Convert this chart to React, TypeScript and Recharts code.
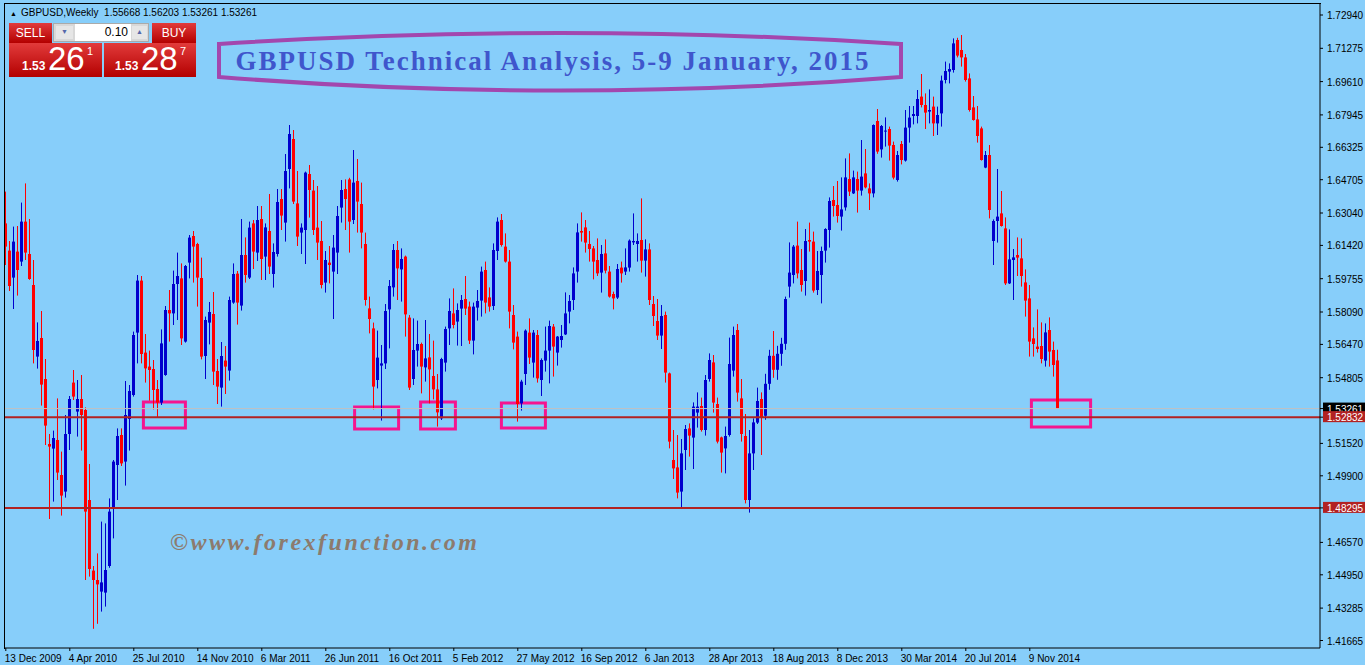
import React from 'react';
import { ComposedChart, Bar, XAxis, YAxis, ReferenceLine, ReferenceArea } from 'recharts';

// weekly GBPUSD bars, week 0 = 13 Dec 2009
const opens = [
  1.6252, 1.6116, 1.5981, 1.6111, 1.6061, 1.6261, 1.6099, 1.5944,
  1.5586, 1.5679, 1.5474, 1.5149, 1.5126, 1.5169, 1.4994, 1.4911,
  1.5199, 1.5456, 1.5311, 1.5374, 1.5319, 1.4869, 1.4516, 1.4469,
  1.4411, 1.4406, 1.4539, 1.4827, 1.5044, 1.5194, 1.5061, 1.5274,
  1.5394, 1.5706, 1.5966, 1.5606, 1.5536, 1.5524, 1.5424, 1.5356,
  1.5494, 1.5819, 1.5802, 1.5949, 1.5977, 1.5661, 1.6056, 1.6189,
  1.6149, 1.5979, 1.5589, 1.5756, 1.5799, 1.5514, 1.5431, 1.5566,
  1.5516, 1.5856, 1.6001, 1.5841, 1.6094, 1.5981, 1.6252, 1.6106,
  1.6274, 1.6086, 1.6214, 1.5999, 1.6099, 1.6374, 1.6256, 1.6524,
  1.6674, 1.6352, 1.6206, 1.6219, 1.6499, 1.6416, 1.6231, 1.6164,
  1.5956, 1.6056, 1.6011, 1.6106, 1.6331, 1.6424, 1.6472, 1.6269,
  1.6464, 1.6349, 1.6149, 1.5827, 1.5727, 1.5469, 1.5541, 1.5552,
  1.5822, 1.5932, 1.6119, 1.6022, 1.6086, 1.5781, 1.5474, 1.5616,
  1.5649, 1.5532, 1.5582, 1.5489, 1.5422, 1.5277, 1.5556, 1.5727,
  1.5802, 1.5761, 1.5826, 1.5874, 1.5836, 1.5666, 1.5831, 1.5866,
  1.6019, 1.5882, 1.5839, 1.6114, 1.6269, 1.6136, 1.6061, 1.5794,
  1.5686, 1.5352, 1.5499, 1.5706, 1.5556, 1.5694, 1.5469, 1.5566,
  1.5616, 1.5736, 1.5606, 1.5669, 1.5697, 1.5811, 1.5869, 1.6011,
  1.6214, 1.6232, 1.6149, 1.6127, 1.6069, 1.6006, 1.6102, 1.6011,
  1.5899, 1.5881, 1.6031, 1.6011, 1.6031, 1.6157, 1.6149, 1.6169,
  1.6066, 1.6122, 1.5849, 1.5764, 1.5691, 1.5794, 1.5502, 1.5069,
  1.5032, 1.4911, 1.5119, 1.5227, 1.5181, 1.5306, 1.5339, 1.5219,
  1.5474, 1.5557, 1.5349, 1.5182, 1.5127, 1.5194, 1.5516, 1.5719,
  1.5377, 1.5189, 1.4869, 1.5102, 1.5256, 1.5374, 1.5290, 1.5450,
  1.5590, 1.5520, 1.5600, 1.5650, 1.5936, 1.5994, 1.6141, 1.6019,
  1.5964, 1.6169, 1.6161, 1.5919, 1.5994, 1.6116, 1.6219, 1.6369,
  1.6344, 1.6286, 1.6332, 1.6474, 1.6402, 1.6474, 1.6416, 1.6502,
  1.6427, 1.6402, 1.6764, 1.6622, 1.6711, 1.6724, 1.6644, 1.6469,
  1.6649, 1.6566, 1.6731, 1.6789, 1.6789, 1.6886, 1.6844, 1.6811,
  1.6836, 1.6752, 1.6802, 1.6969, 1.7011, 1.7019, 1.7169, 1.7119,
  1.7082, 1.6977, 1.6832, 1.6772, 1.6727, 1.6531, 1.6594, 1.6164,
  1.6264, 1.6302, 1.6227, 1.5952, 1.6069, 1.6094, 1.6077, 1.5957,
  1.5877, 1.5677, 1.5636, 1.5639, 1.5566, 1.5719, 1.5619, 1.55668,
];

const highs = [
  1.6411, 1.6164, 1.6236, 1.6239, 1.6356, 1.6452, 1.6274, 1.6069,
  1.5757, 1.5814, 1.5574, 1.5199, 1.5216, 1.5377, 1.5111, 1.5294,
  1.5389, 1.5519, 1.5469, 1.5494, 1.5332, 1.5049, 1.4539, 1.4602,
  1.4761, 1.4752, 1.4877, 1.5069, 1.5227, 1.5227, 1.5464, 1.5444,
  1.5711, 1.5994, 1.5989, 1.5699, 1.5616, 1.5569, 1.5469, 1.5722,
  1.5839, 1.5919, 1.6016, 1.6106, 1.6052, 1.6044, 1.6194, 1.6214,
  1.6155, 1.6081, 1.5786, 1.5859, 1.5909, 1.5574, 1.5659, 1.5639,
  1.5886, 1.6052, 1.6014, 1.6274, 1.6182, 1.6261, 1.6269, 1.6339,
  1.6339, 1.6252, 1.6399, 1.6152, 1.6424, 1.6424, 1.6599, 1.6744,
  1.6719, 1.6514, 1.6252, 1.6511, 1.6544, 1.6469, 1.6439, 1.6264,
  1.6114, 1.6139, 1.6194, 1.6339, 1.6469, 1.6472, 1.6480, 1.6619,
  1.6574, 1.6456, 1.6206, 1.5886, 1.5756, 1.5716, 1.5644, 1.5849,
  1.5969, 1.6149, 1.6164, 1.6127, 1.6091, 1.5794, 1.5777, 1.5766,
  1.5656, 1.5769, 1.5699, 1.5666, 1.5499, 1.5580, 1.5736, 1.5877,
  1.5927, 1.5852, 1.5894, 1.5989, 1.5861, 1.5856, 1.5919, 1.6036,
  1.6061, 1.5932, 1.6152, 1.6282, 1.6299, 1.6202, 1.6119, 1.5844,
  1.5711, 1.5470, 1.5722, 1.5777, 1.5719, 1.5719, 1.5577, 1.5736,
  1.5766, 1.5749, 1.5689, 1.5744, 1.5907, 1.5894, 1.6032, 1.6252,
  1.6307, 1.6269, 1.6214, 1.6139, 1.6177, 1.6144, 1.6172, 1.6039,
  1.5911, 1.6049, 1.6061, 1.6127, 1.6172, 1.6302, 1.6202, 1.6377,
  1.6172, 1.6152, 1.5889, 1.5874, 1.5844, 1.5811, 1.5506, 1.5219,
  1.5194, 1.5174, 1.5244, 1.5252, 1.5357, 1.5407, 1.5381, 1.5494,
  1.5602, 1.5594, 1.5381, 1.5186, 1.5236, 1.5681, 1.5736, 1.5749,
  1.5474, 1.5299, 1.5219, 1.5277, 1.5431, 1.5407, 1.5500, 1.5620,
  1.5714, 1.5640, 1.5680, 1.5886, 1.6157, 1.6144, 1.6261, 1.6124,
  1.6224, 1.6256, 1.6211, 1.6114, 1.6136, 1.6228, 1.6382, 1.6439,
  1.6464, 1.6482, 1.6577, 1.6602, 1.6516, 1.6511, 1.6669, 1.6624,
  1.6452, 1.6747, 1.6824, 1.6744, 1.6782, 1.6736, 1.6661, 1.6614,
  1.6664, 1.6819, 1.6839, 1.6839, 1.6919, 1.6999, 1.6902, 1.6922,
  1.6886, 1.6836, 1.6991, 1.7061, 1.7052, 1.7177, 1.7180, 1.7194,
  1.7099, 1.7002, 1.6889, 1.6839, 1.6736, 1.6614, 1.6644, 1.6272,
  1.6524, 1.6414, 1.6282, 1.6222, 1.6124, 1.6182, 1.6177, 1.6022,
  1.5944, 1.5732, 1.5822, 1.5757, 1.5752, 1.5782, 1.5661, 1.56203,
];

const lows = [
  1.6044, 1.5914, 1.5824, 1.5891, 1.6039, 1.6069, 1.5970, 1.5552,
  1.5526, 1.5341, 1.5144, 1.4774, 1.4861, 1.4969, 1.4791, 1.4881,
  1.5119, 1.5369, 1.5186, 1.5116, 1.4469, 1.4486, 1.4225, 1.4250,
  1.4311, 1.4336, 1.4530, 1.4677, 1.4869, 1.5039, 1.4941, 1.5116,
  1.5386, 1.5552, 1.5552, 1.5456, 1.5366, 1.5322, 1.5282, 1.5344,
  1.5490, 1.5661, 1.5744, 1.5769, 1.5644, 1.5656, 1.5977, 1.5956,
  1.5836, 1.5572, 1.5474, 1.5647, 1.5444, 1.5349, 1.5336, 1.5399,
  1.5466, 1.5850, 1.5746, 1.5816, 1.5956, 1.5974, 1.6024, 1.6064,
  1.5969, 1.5969, 1.5999, 1.5931, 1.6086, 1.6219, 1.6161, 1.6427,
  1.6349, 1.6139, 1.6099, 1.6049, 1.6281, 1.6194, 1.6069, 1.5927,
  1.5906, 1.5952, 1.5774, 1.5999, 1.6256, 1.6219, 1.6106, 1.6249,
  1.6206, 1.6127, 1.5841, 1.5702, 1.5322, 1.5427, 1.5266, 1.5524,
  1.5627, 1.5886, 1.5869, 1.5861, 1.5686, 1.5419, 1.5444, 1.5536,
  1.5402, 1.5461, 1.5352, 1.5372, 1.5236, 1.5269, 1.5511, 1.5644,
  1.5727, 1.5641, 1.5639, 1.5794, 1.5649, 1.5597, 1.5766, 1.5786,
  1.5802, 1.5811, 1.5819, 1.6069, 1.6136, 1.6056, 1.5727, 1.5622,
  1.5261, 1.5316, 1.5444, 1.5549, 1.5481, 1.5456, 1.5389, 1.5511,
  1.5452, 1.5486, 1.5541, 1.5631, 1.5694, 1.5752, 1.5819, 1.5956,
  1.6161, 1.6106, 1.6061, 1.5972, 1.5989, 1.5906, 1.6002, 1.5881,
  1.5822, 1.5874, 1.5956, 1.5994, 1.6011, 1.6144, 1.6061, 1.6006,
  1.5986, 1.5844, 1.5739, 1.5669, 1.5624, 1.5456, 1.5127, 1.4974,
  1.4877, 1.4827, 1.5019, 1.5086, 1.5024, 1.5231, 1.5211, 1.5191,
  1.5461, 1.5306, 1.5152, 1.5006, 1.5002, 1.5186, 1.5486, 1.5361,
  1.5161, 1.4852, 1.4806, 1.5019, 1.5249, 1.5094, 1.5270, 1.5420,
  1.5480, 1.5470, 1.5540, 1.5620, 1.5881, 1.5952, 1.5977, 1.5911,
  1.5891, 1.6111, 1.5906, 1.5894, 1.5852, 1.6056, 1.6131, 1.6286,
  1.6256, 1.6216, 1.6316, 1.6389, 1.6399, 1.6306, 1.6391, 1.6427,
  1.6319, 1.6382, 1.6600, 1.6581, 1.6636, 1.6566, 1.6472, 1.6461,
  1.6547, 1.6561, 1.6656, 1.6747, 1.6752, 1.6832, 1.6724, 1.6752,
  1.6689, 1.6694, 1.6736, 1.6952, 1.6952, 1.7006, 1.7082, 1.7036,
  1.6961, 1.6811, 1.6766, 1.6656, 1.6566, 1.6528, 1.6277, 1.6044,
  1.6156, 1.6236, 1.5944, 1.5949, 1.5869, 1.5989, 1.5936, 1.5786,
  1.5586, 1.5586, 1.5606, 1.5552, 1.5536, 1.5536, 1.5486, 1.53261,
];

const closes = [
  1.6136, 1.5939, 1.6161, 1.6019, 1.6261, 1.6106, 1.5974, 1.5619,
  1.5664, 1.5446, 1.5241, 1.5136, 1.5179, 1.5006, 1.4891, 1.5199,
  1.5374, 1.5386, 1.5374, 1.5294, 1.4811, 1.4524, 1.4469, 1.4447,
  1.4457, 1.4519, 1.4811, 1.5061, 1.5189, 1.5052, 1.5294, 1.5414,
  1.5694, 1.5966, 1.5599, 1.5527, 1.5519, 1.5419, 1.5356, 1.5652,
  1.5819, 1.5802, 1.5949, 1.5989, 1.5677, 1.6039, 1.6181, 1.6136,
  1.5981, 1.5586, 1.5769, 1.5809, 1.5511, 1.5436, 1.5589, 1.5536,
  1.5869, 1.5999, 1.5856, 1.6094, 1.5994, 1.6231, 1.6111, 1.6269,
  1.6074, 1.6232, 1.6036, 1.6109, 1.6359, 1.6291, 1.6514, 1.6699,
  1.6361, 1.6186, 1.6231, 1.6506, 1.6419, 1.6219, 1.6156, 1.5944,
  1.6069, 1.6044, 1.6131, 1.6289, 1.6419, 1.6374, 1.6261, 1.6456,
  1.6361, 1.6206, 1.5869, 1.5774, 1.5436, 1.5581, 1.5552, 1.5814,
  1.5939, 1.6119, 1.6027, 1.6074, 1.5797, 1.5431, 1.5619, 1.5649,
  1.5536, 1.5577, 1.5522, 1.5422, 1.5307, 1.5574, 1.5724, 1.5814,
  1.5744, 1.5819, 1.5869, 1.5826, 1.5666, 1.5836, 1.5864, 1.6011,
  1.5856, 1.5836, 1.6119, 1.6261, 1.6144, 1.6061, 1.5811, 1.5656,
  1.5349, 1.5461, 1.5716, 1.5581, 1.5706, 1.5477, 1.5569, 1.5616,
  1.5739, 1.5636, 1.5686, 1.5689, 1.5802, 1.5864, 1.6002, 1.6207,
  1.6206, 1.6156, 1.6124, 1.6061, 1.6002, 1.6099, 1.6016, 1.5886,
  1.5877, 1.6024, 1.6002, 1.6032, 1.6166, 1.6164, 1.6164, 1.6066,
  1.6122, 1.5869, 1.5789, 1.5691, 1.5789, 1.5506, 1.5161, 1.5027,
  1.4906, 1.5102, 1.5224, 1.5191, 1.5336, 1.5336, 1.5219, 1.5469,
  1.5569, 1.5356, 1.5161, 1.5106, 1.5189, 1.5549, 1.5694, 1.5406,
  1.5199, 1.4869, 1.5102, 1.5257, 1.5364, 1.5282, 1.5450, 1.5590,
  1.5520, 1.5600, 1.5650, 1.5874, 1.6006, 1.6136, 1.6002, 1.5944,
  1.6164, 1.6161, 1.5916, 1.6014, 1.6114, 1.6224, 1.6364, 1.6339,
  1.6289, 1.6322, 1.6482, 1.6411, 1.6482, 1.6416, 1.6486, 1.6432,
  1.6402, 1.6744, 1.6611, 1.6739, 1.6716, 1.6641, 1.6481, 1.6594,
  1.6569, 1.6731, 1.6781, 1.6799, 1.6874, 1.6844, 1.6806, 1.6819,
  1.6752, 1.6794, 1.6966, 1.7014, 1.7024, 1.7152, 1.7091, 1.7082,
  1.6969, 1.6819, 1.6769, 1.6689, 1.6569, 1.6594, 1.6319, 1.6264,
  1.6286, 1.6239, 1.5952, 1.6072, 1.6082, 1.6081, 1.5989, 1.5866,
  1.5661, 1.5649, 1.5624, 1.5574, 1.5707, 1.5611, 1.5544, 1.53261,
];

const tickWeeks = [0, 16, 32, 48, 64, 80, 96, 112, 128, 144, 160, 176, 192, 208, 224, 240, 256];
const tickLabels = [
  '13 Dec 2009', '4 Apr 2010', '25 Jul 2010', '14 Nov 2010', '6 Mar 2011', '26 Jun 2011',
  '16 Oct 2011', '5 Feb 2012', '27 May 2012', '16 Sep 2012', '6 Jan 2013', '28 Apr 2013',
  '18 Aug 2013', '8 Dec 2013', '30 Mar 2014', '20 Jul 2014', '9 Nov 2014',
];

const priceTicks = [
  1.7294, 1.71275, 1.6961, 1.67945, 1.66325, 1.64705, 1.6304, 1.6142, 1.59755,
  1.5809, 1.5647, 1.54805, 1.5152, 1.499, 1.4657, 1.4495, 1.43285, 1.41665,
];

const bidPrice = 1.53261;
const supportLevels = [1.52832, 1.48295];

// pink boxes drawn on the chart: [fromWeek, toWeek, bottom, top]
const supportBoxes = [
  [34.4, 44.9, 1.5229, 1.5359],
  [87.2, 98.2, 1.5224, 1.5334],
  [103.7, 112.4, 1.5224, 1.5359],
  [123.9, 134.9, 1.5229, 1.5354],
  [256.4, 271.2, 1.5234, 1.5369],
];

const W = 1365;
const H = 665;
const PLOT_LEFT = 5;
const PLOT_RIGHT = 1320;
const PLOT_TOP = 4;
const PLOT_BOTTOM = 648;
const BAR_PX = 4;
const X_MIN = -0.2;
const X_MAX = X_MIN + (PLOT_RIGHT - PLOT_LEFT) / BAR_PX;

const data = opens.map((o, i) => ({
  week: i,
  open: o,
  high: highs[i],
  low: lows[i],
  close: closes[i],
  range: [lows[i], highs[i]],
}));

const BLUE = '#0000CD';
const RED = '#FF0000';
const LINE_RED = '#B22222';
const UI_FONT = '"Liberation Sans", Arial, sans-serif';

const Candle = (props: any) => {
  const { x, y, width, height, payload } = props;
  if (!payload) return null;
  const { open, high, low, close } = payload;
  const color = close >= open ? BLUE : RED;
  const top = Math.min(y, y + height);
  const h = Math.abs(height);
  const k = high > low ? h / (high - low) : 0;
  const cx = Math.round(x + width / 2);
  const bTop = top + (high - Math.max(open, close)) * k;
  const bBot = top + (high - Math.min(open, close)) * k;
  return (
    <g>
      <line x1={cx + 0.5} x2={cx + 0.5} y1={top} y2={top + h} stroke={color} strokeWidth={1} />
      <rect x={cx - 1} y={bTop} width={3} height={Math.max(1, bBot - bTop)} fill={color} />
    </g>
  );
};

const DateTick = ({ x, y, payload }: any) => {
  const idx = tickWeeks.indexOf(payload.value);
  return (
    <text x={x - 1} y={y + 9} fontSize={10} fontFamily={UI_FONT} fill="#000" textAnchor="start">
      {idx >= 0 ? tickLabels[idx] : ''}
    </text>
  );
};

const PriceTick = ({ x, y, payload }: any) => {
  const v = payload.value;
  const label = v.toFixed(5);
  if (v === bidPrice || supportLevels.includes(v)) {
    const bg = v === bidPrice ? '#000000' : LINE_RED;
    return (
      <g>
        <rect x={x - 2} y={y - 6} width={W - x + 2} height={11} fill={bg} />
        <text x={x + 2} y={y + 4} fontSize={10} fontFamily={UI_FONT} fill="#fff">{label}</text>
      </g>
    );
  }
  return (
    <text x={x + 2} y={y + 4} fontSize={10} fontFamily={UI_FONT} fill="#000">{label}</text>
  );
};

const TradePanel = () => {
  const red = 'linear-gradient(#e23b3b, #b30000)';
  const price = (big: string, sup: string, dx: number) => (
    <div style={{ position: 'relative', height: '100%', color: '#fff', fontFamily: UI_FONT }}>
      <span style={{ position: 'absolute', left: 13 + dx, top: 16, fontSize: 12, fontWeight: 'bold' }}>1.53</span>
      <span style={{ position: 'absolute', left: 39 + dx, top: -3, fontSize: 33 }}>{big}</span>
      <span style={{ position: 'absolute', left: 78 + dx, top: 2, fontSize: 11 }}>{sup}</span>
    </div>
  );
  return (
    <div style={{ position: 'absolute', left: 9, top: 23, width: 188, height: 55 }}>
      <div style={{ position: 'absolute', left: 0, top: 0, width: 43, height: 20, background: red, color: '#fff', fontSize: 12, fontFamily: UI_FONT, textAlign: 'center', lineHeight: '20px' }}>SELL</div>
      <div style={{ position: 'absolute', left: 44, top: 0, width: 96, height: 19, background: '#d8d8d8', border: '1px solid #aaa', boxSizing: 'border-box' }}>
        <div style={{ position: 'absolute', left: 2, top: 2, width: 17, height: 13, background: '#e6e6e6', color: '#5566aa', fontSize: 7, textAlign: 'center', lineHeight: '13px' }}>▼</div>
        <div style={{ position: 'absolute', left: 21, top: 0, width: 56, height: 17, background: '#fff', fontSize: 12, fontFamily: UI_FONT, textAlign: 'right', lineHeight: '17px', paddingRight: 3, boxSizing: 'border-box' }}>0.10</div>
        <div style={{ position: 'absolute', left: 78, top: 2, width: 15, height: 13, background: '#e6e6e6', color: '#5566aa', fontSize: 7, textAlign: 'center', lineHeight: '13px' }}>▲</div>
      </div>
      <div style={{ position: 'absolute', left: 143, top: 0, width: 44, height: 20, background: red, color: '#fff', fontSize: 12, fontFamily: UI_FONT, textAlign: 'center', lineHeight: '20px' }}>BUY</div>
      <div style={{ position: 'absolute', left: 0, top: 20, width: 93, height: 34, background: red }}>{price('26', '1', 0)}</div>
      <div style={{ position: 'absolute', left: 95, top: 20, width: 92, height: 34, background: red }}>{price('28', '7', -2)}</div>
    </div>
  );
};

export default function App() {
  return (
    <div style={{ position: 'relative', width: W, height: H, background: '#87CEFA', overflow: 'hidden' }}>
      <style>{'body{margin:0}'}</style>
      <ComposedChart
        width={W}
        height={H}
        data={data}
        margin={{ top: PLOT_TOP, right: 0, left: PLOT_LEFT, bottom: 0 }}
      >
        <XAxis
          dataKey="week"
          type="number"
          domain={[X_MIN, X_MAX]}
          allowDataOverflow
          ticks={tickWeeks}
          tick={<DateTick />}
          height={H - PLOT_BOTTOM}
          axisLine={{ stroke: '#000' }}
          tickLine={{ stroke: '#000' }}
          tickSize={3}
          interval={0}
        />
        <YAxis
          orientation="right"
          type="number"
          domain={[1.4129, 1.7349]}
          allowDataOverflow
          ticks={[...priceTicks, bidPrice, ...supportLevels]}
          tick={<PriceTick />}
          width={W - PLOT_RIGHT}
          axisLine={{ stroke: '#000' }}
          tickLine={{ stroke: '#000' }}
          tickSize={3}
          interval={0}
        />
        <ReferenceLine y={bidPrice} stroke="#C0C0C0" strokeWidth={1} />
        {supportLevels.map((v) => (
          <ReferenceLine key={v} y={v} stroke={LINE_RED} strokeWidth={2} />
        ))}
        <Bar dataKey="range" barSize={3} shape={<Candle />} isAnimationActive={false} />
        {supportBoxes.map((b, i) => (
          <ReferenceArea
            key={i}
            x1={b[0]}
            x2={b[1]}
            y1={b[2]}
            y2={b[3]}
            fill="none"
            fillOpacity={0}
            stroke="#F5158F"
            strokeWidth={3}
            strokeOpacity={1}
          />
        ))}
      </ComposedChart>

      <div style={{ position: 'absolute', left: PLOT_LEFT - 1, top: PLOT_TOP - 1, width: PLOT_RIGHT - PLOT_LEFT + 1, height: PLOT_BOTTOM - PLOT_TOP + 1, borderLeft: '1px solid #000', borderTop: '1px solid #000', pointerEvents: 'none' }} />

      <div style={{ position: 'absolute', left: 10, top: 7, fontSize: 10, fontFamily: UI_FONT, color: '#000', whiteSpace: 'nowrap' }}>
        <span style={{ fontSize: 7, marginRight: 4 }}>▲</span>GBPUSD,Weekly&nbsp;&nbsp;1.55668 1.56203 1.53261 1.53261
      </div>

      <TradePanel />

      <svg style={{ position: 'absolute', left: 0, top: 0 }} width={W} height={120} pointerEvents="none">
        <path d="M219,44 Q560,22 901,44 L901,77 Q560,104 219,77 Z" fill="none" stroke="#A347AE" strokeWidth={4} />
        <text x={553} y={70} textAnchor="middle" fontFamily='"Liberation Serif", serif' fontWeight="bold" fontSize={27} letterSpacing={2} fill="#3F56CC">
          GBPUSD Technical Analysis, 5-9 January, 2015
        </text>
      </svg>

      <div style={{ position: 'absolute', left: 170, top: 529, fontFamily: '"Liberation Serif", serif', fontStyle: 'italic', fontWeight: 'bold', fontSize: 24, letterSpacing: 2.5, color: '#8C7B6E', whiteSpace: 'nowrap' }}>
        ©www.forexfunction.com
      </div>
    </div>
  );
}
